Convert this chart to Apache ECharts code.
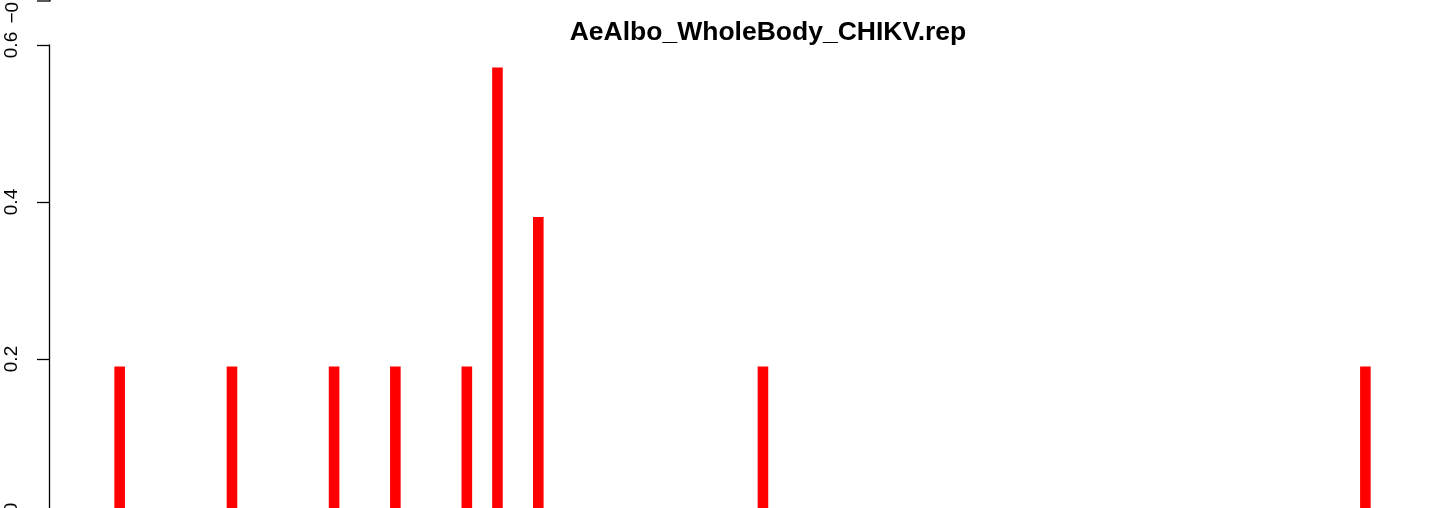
<!DOCTYPE html>
<html>
<head>
<meta charset="utf-8">
<script src="https://cdn.jsdelivr.net/npm/echarts@6/dist/echarts.min.js"></script>
<style>
  html, body { margin: 0; padding: 0; background: #fff; }
  #main { width: 1429px; height: 508px; }
</style>
</head>
<body>
<div id="main"></div>
<script>
// positions along x (bin index) and heights of the red bars
const positions = [0, 11, 21, 27, 34, 37, 41, 63, 122];
const values = [0.1905, 0.1905, 0.1905, 0.1905, 0.1905, 0.5714, 0.381, 0.1905, 0.1905];
const yTicks = [0, 0.2, 0.4, 0.6];
const titleText = 'AeAlbo_WholeBody_CHIKV.rep';
// label of the panel above, cut by the top edge
const prevLabel = '\u22120.2';

const barData = positions.map((p, i) => [p, values[i]]);
const font = '"Liberation Sans", Arial, Helvetica, sans-serif';

const chart = echarts.init(document.getElementById('main'), null, { renderer: 'canvas' });
chart.setOption({
  backgroundColor: '#ffffff',
  animation: false,
  title: {
    text: titleText,
    left: 768,
    top: 19,
    textAlign: 'center',
    padding: 0,
    textStyle: { fontFamily: font, fontWeight: 'bold', fontSize: 26.5, color: '#000' }
  },
  grid: { left: 49, top: 45, height: 471, right: 0, outerBoundsMode: 'none', containLabel: false },
  xAxis: {
    type: 'value',
    min: -6.92,
    max: 128.23,
    show: false
  },
  yAxis: {
    type: 'value',
    min: yTicks[0],
    max: yTicks[yTicks.length - 1],
    interval: 0.2,
    splitLine: { show: false },
    axisLine: { show: true, onZero: false, lineStyle: { color: '#000', width: 1.3 } },
    axisTick: { show: true, length: 12, lineStyle: { color: '#000', width: 1.3 } },
    axisLabel: {
      rotate: 90,
      margin: 28,
      color: '#000',
      fontFamily: font,
      fontSize: 19,
      formatter: v => v.toFixed(1)
    }
  },
  series: [{
    type: 'bar',
    data: barData,
    barWidth: 10.6,
    itemStyle: { color: '#ff0000' }
  }],
  graphic: [
    { type: 'line', shape: { x1: 37, y1: 1, x2: 50, y2: 1 }, style: { stroke: '#000', lineWidth: 1.3 } },
    { type: 'line', shape: { x1: 50, y1: 0, x2: 50, y2: 1.5 }, style: { stroke: '#000', lineWidth: 1.3 } },
    {
      type: 'text', x: 12.5, y: 23.5, rotation: Math.PI / 2,
      style: { text: prevLabel, font: '19px ' + font, fill: '#000', align: 'left', verticalAlign: 'middle' }
    }
  ]
});
</script>
</body>
</html>
